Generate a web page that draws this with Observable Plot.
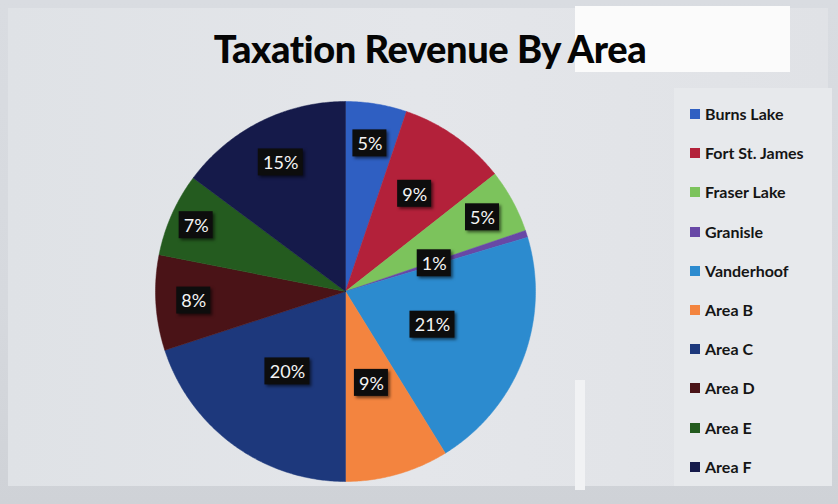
<!DOCTYPE html>
<html>
<head>
<meta charset="utf-8">
<script src="https://cdn.jsdelivr.net/npm/d3@7"></script>
<script src="https://cdn.jsdelivr.net/npm/@observablehq/plot@0.6"></script>
<style>
  html, body { margin: 0; padding: 0; }
  body { width: 838px; height: 504px; position: relative; overflow: hidden;
         background: linear-gradient(180deg, #d9dce1 0%, #d6d9de 60%, #cfd2d7 100%);
         font-family: Lato, "Open Sans", sans-serif; }
  #whitebox { position: absolute; left: 575px; top: 6px; width: 215px; height: 66px; background: #fbfbfb; }
  #panel { position: absolute; left: 8px; top: 8px; width: 820px; height: 478px;
           background: linear-gradient(90deg, #dfe2e6 0%, #e4e6ea 50%, #e0e2e6 100%); }
  #strip { position: absolute; left: 575px; top: 380px; width: 10px; height: 110px; background: #f1f2f4; }
  #legpanel { position: absolute; left: 674px; top: 88px; width: 158px; height: 398px; background: #e7e9ec; }
  #title { position: absolute; left: 0; top: 25px; width: 860px; text-align: center;
           font-family: Lato, sans-serif; font-weight: 900; font-size: 38px; color: #050505; letter-spacing: -0.4px; }
  #chart { position: absolute; left: 0; top: 0; }
  #legend { position: absolute; left: 690px; top: 104px; }
  .item { height: 39.2px; display: flex; align-items: flex-start; font-weight: 700; font-size: 16px; color: #151515; white-space: nowrap; }
  .sw { width: 10px; height: 10px; margin-right: 5px; margin-top: 5px; flex: none; }
  .lbl rect { filter: drop-shadow(2px 2px 1.5px rgba(0,0,0,0.55)); }
</style>
</head>
<body>
<div id="panel"></div>
<div id="whitebox"></div>
<div id="strip"></div>
<div id="legpanel"></div>
<div id="chart"></div>
<div id="title">Taxation Revenue By Area</div>
<div id="legend"></div>
<script>
// ---- data ----
const areas = ["Burns Lake", "Fort St. James", "Fraser Lake", "Granisle", "Vanderhoof",
               "Area B", "Area C", "Area D", "Area E", "Area F"];
const shares = [5.2, 9.2, 5.4, 0.6, 20.8, 8.8, 20.0, 8.1, 7.1, 14.8];
const labels = ["5%", "9%", "5%", "1%", "21%", "9%", "20%", "8%", "7%", "15%"];

// ---- styles / layout ----
const colors = ["#2f5fc2", "#b3213a", "#7cc35c", "#6848a6", "#2c8bcf",
                "#f3843f", "#1d387c", "#4a1317", "#245b1f", "#151a4a"];
const W = 838, H = 504;
const cx = 345, cy = 291, R = 190;   // pie layout (pixels)
// data-label distance from centre, as a fraction of the radius (Excel "best fit" placement)
const labelRadius = [0.79, 0.63, 0.82, 0.49, 0.49, 0.5, 0.52, 0.8, 0.86, 0.76];

const pie = d3.pie().sort(null).value(d => d.share)(
  areas.map((a, i) => ({name: a, share: shares[i], label: labels[i]}))
);

const pts = [];
for (const s of pie) {
  pts.push({name: s.data.name, x: 0, y: 0});
  const n = Math.max(2, Math.ceil((s.endAngle - s.startAngle) / 0.01));
  for (let k = 0; k <= n; k++) {
    const a = s.startAngle + (s.endAngle - s.startAngle) * k / n;
    pts.push({name: s.data.name, x: Math.sin(a), y: Math.cos(a)});
  }
  pts.push({name: s.data.name, x: 0, y: 0});
}

const lab = pie.map((s, i) => {
  const a = (s.startAngle + s.endAngle) / 2;
  const x = labelRadius[i] * Math.sin(a), y = labelRadius[i] * Math.cos(a);
  const hw = (s.data.label.length * 11 + 12) / 2 / R, hh = 13.5 / R;
  return {label: s.data.label, x, y, x1: x - hw, x2: x + hw, y1: y - hh, y2: y + hh};
});

const chart = Plot.plot({
  width: W, height: H,
  margin: 0,
  x: {domain: [-1, 1], range: [cx - R, cx + R], axis: null},
  y: {domain: [-1, 1], range: [cy + R, cy - R], axis: null},
  color: {domain: areas, range: colors},
  style: {background: "transparent", overflow: "visible"},
  marks: [
    Plot.line(pts, {x: "x", y: "y", z: "name", fill: "name", stroke: "name", strokeWidth: 0.5, curve: "linear"}),
    Plot.rect(lab, {x1: "x1", x2: "x2", y1: "y1", y2: "y2", fill: "#0d0d0d", className: "lbl"}),
    Plot.text(lab, {x: "x", y: "y", text: "label", fill: "#f4f4f4", fontSize: 18, fontFamily: "Lato, sans-serif", dy: 1})
  ]
});
document.getElementById("chart").appendChild(chart);

const leg = document.getElementById("legend");
areas.forEach((a, i) => {
  const d = document.createElement("div");
  d.className = "item";
  d.innerHTML = `<span class="sw" style="background:${colors[i]}"></span><span>${a}</span>`;
  leg.appendChild(d);
});
</script>
</body>
</html>
